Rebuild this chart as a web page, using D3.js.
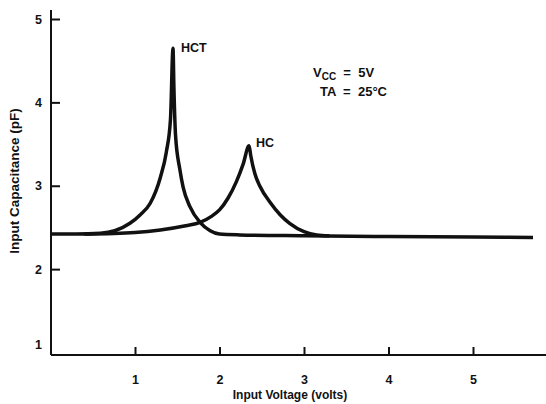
<!DOCTYPE html>
<html>
<head>
<meta charset="utf-8">
<script src="https://cdn.jsdelivr.net/npm/d3@7"></script>
<style>
  body { margin: 0; background: #fff; }
  text { font-family: "Liberation Sans", Arial, sans-serif; font-weight: bold; fill: #111; }
</style>
</head>
<body>
<svg id="chart" width="546" height="404"></svg>
<script>
// HCT input capacitance vs input voltage
let hctVolts = [0, 0.3, 0.59, 0.76, 0.94, 1.06, 1.18, 1.3, 1.37, 1.42, 1.45, 1.46, 1.48, 1.53, 1.57, 1.65, 1.77, 1.89, 2.0, 2.24, 3.0, 4.0, 5.0, 5.71]
let hctCap = [2.42, 2.42, 2.43, 2.46, 2.55, 2.65, 2.79, 3.1, 3.4, 3.8, 4.65, 4.2, 3.6, 3.2, 2.98, 2.75, 2.56, 2.46, 2.42, 2.41, 2.40, 2.39, 2.385, 2.38]

// HC input capacitance
let hcVolts = [0.4, 1.0, 1.3, 1.6, 1.77, 1.9, 2.0, 2.1, 2.2, 2.28, 2.35, 2.37, 2.42, 2.48, 2.6, 2.72, 2.83, 3.0, 3.15, 3.3]
let hcCap = [2.42, 2.44, 2.47, 2.52, 2.56, 2.63, 2.71, 2.85, 3.05, 3.26, 3.48, 3.36, 3.14, 2.99, 2.8, 2.65, 2.55, 2.45, 2.41, 2.40]

let xTicks = [1, 2, 3, 4, 5]
let yTicks = [1, 2, 3, 4, 5]

let svg = d3.select("#chart")
let margin = { left: 51, top: 10, bottom: 355, right: 546 }

let xScale = d3.scaleLinear().domain([0, 5]).range([50.5, 473])
let yScale = d3.scaleLinear().domain([1, 5]).range([352.5, 19])

// 坐标轴
let xAxis = svg.append("g")
    .attr("transform", "translate(0," + margin.bottom + ")")
    .call(d3.axisTop(xScale).tickValues(xTicks).tickSize(8).tickFormat(d3.format("d")))
xAxis.select(".domain").attr("d", "M" + margin.left + ",0H" + margin.right)
xAxis.selectAll("text").attr("y", 20).attr("dy", "0.71em").attr("font-size", "12.5px")

let yAxis = svg.append("g")
    .attr("transform", "translate(" + margin.left + ",0)")
    .call(d3.axisRight(yScale).tickValues(yTicks).tickSize(9).tickFormat(d3.format("d")))
yAxis.select(".domain").attr("d", "M0," + margin.top + "V" + margin.bottom)
yAxis.selectAll("text")
    .attr("x", -9)
    .attr("text-anchor", "end")
    .attr("font-size", "12.5px")
yAxis.selectAll(".tick").filter(d => d === 1).select("line").remove()
yAxis.selectAll(".tick").filter(d => d === 1).select("text").attr("y", -8)

svg.selectAll(".domain, .tick line")
    .attr("stroke", "#111")
    .attr("stroke-width", 2)

// 曲线
let line = d3.line()
    .x(d => xScale(d[0]))
    .y(d => yScale(d[1]))
    .curve(d3.curveMonotoneX)

svg.append("path")
    .datum(d3.zip(hctVolts, hctCap))
    .attr("d", line)
    .attr("fill", "none")
    .attr("stroke", "#111")
    .attr("stroke-width", 3.5)

svg.append("path")
    .datum(d3.zip(hcVolts, hcCap))
    .attr("d", line)
    .attr("fill", "none")
    .attr("stroke", "#111")
    .attr("stroke-width", 3.5)

// 标注
svg.append("text").attr("x", 181).attr("y", 52).attr("font-size", "12.5px").text("HCT")
svg.append("text").attr("x", 256).attr("y", 147).attr("font-size", "12.5px").text("HC")

let vcc = svg.append("text").attr("x", 313).attr("y", 77).attr("font-size", "13px")
vcc.append("tspan").text("V")
vcc.append("tspan").attr("font-size", "10px").attr("dy", 3).text("CC")
vcc.append("tspan").attr("dy", -3).attr("xml:space", "preserve").text("  =  5V")

svg.append("text").attr("x", 320).attr("y", 96).attr("font-size", "13px")
    .attr("xml:space", "preserve").text("TA  =  25°C")

// 轴标题
svg.append("text")
    .attr("x", 290).attr("y", 399)
    .attr("text-anchor", "middle")
    .attr("font-size", "12px")
    .text("Input Voltage (volts)")

svg.append("text")
    .attr("transform", "translate(19,181) rotate(-90)")
    .attr("text-anchor", "middle")
    .attr("font-size", "13.5px")
    .text("Input Capacitance (pF)")
</script>
</body>
</html>
